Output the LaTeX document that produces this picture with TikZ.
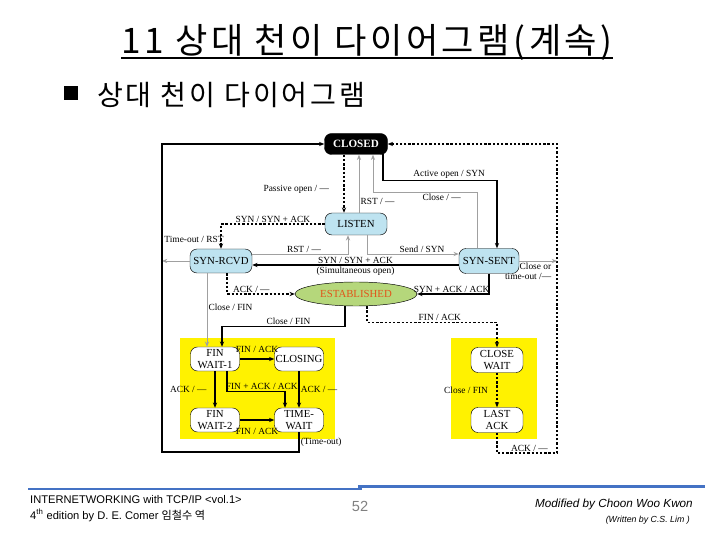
\documentclass[tikz,border=0pt]{standalone}
\usepackage{fontspec}
\setmainfont{Liberation Sans}
\newfontfamily\kr{Noto Sans CJK KR}
\newfontfamily\krwide[LetterSpace=10]{Noto Sans CJK KR}
\newfontfamily\serif{Liberation Serif}
\usepackage{tikz}
\usetikzlibrary{arrows.meta, calc, positioning, shapes.geometric}
\definecolor{stateblue}{RGB}{190,227,240}
\definecolor{estgreen}{RGB}{181,215,123}
\definecolor{estred}{RGB}{226,84,26}
\definecolor{grayline}{RGB}{160,160,160}
\definecolor{barblue}{RGB}{68,114,196}

\begin{document}
\begin{tikzpicture}[x=0.03cm, y=-0.03cm,
  state/.style={rectangle, rounded corners=6pt, draw, thin, inner sep=0pt,
              align=center, font=\serif\fontsize{9.2}{10.5}\selectfont},
  bluestate/.style={state, fill=stateblue},
  finstate/.style={state, fill=white, minimum width=1.47cm, minimum height=0.72cm},
  arrow/.style={-{Stealth[length=4.5pt,width=3.6pt]}, line width=1.1pt},
  grayarrow/.style={arrow, draw=grayline, line width=0.8pt},
  dasharrow/.style={arrow, dash pattern=on 2pt off 1.6pt, line width=0.9pt},
  lbl/.style={font=\serif\fontsize{8}{9}\selectfont, inner sep=1pt}
]
\useasboundingbox (0,0) rectangle (720,540);

% heading
\node[anchor=base, inner sep=0pt, font=\krwide\fontsize{30}{30}\selectfont] (title) at (367,54) {11 상대 천이 다이어그램(계속)};
\draw[line width=1.6pt] ([yshift=-3.5pt]title.base west) -- ([yshift=-3.5pt]title.base east);
\node[fill=black, minimum size=0.42cm, inner sep=0pt] (bullet) at (70.5,93.5) {};
\node[anchor=base west, inner sep=0pt, font=\krwide\fontsize{24}{24}\selectfont] (subtitle) at (97,106) {상대 천이 다이어그램};

% yellow areas
\fill[yellow] (180,338) rectangle (335,439);
\fill[yellow] (451,338) rectangle (537,439);

% states
\node[state, fill=black, text=white, font=\serif\bfseries\fontsize{9.5}{10}\selectfont,
      minimum width=1.89cm, minimum height=0.63cm] (closed) at (356,144) {CLOSED};
\node[bluestate, minimum width=1.86cm, minimum height=0.66cm] (listen) at (356,224) {LISTEN};
\node[bluestate, minimum width=1.86cm, minimum height=0.72cm] (synrcvd) at (221,261) {SYN-RCVD};
\node[bluestate, minimum width=1.8cm, minimum height=0.75cm] (synsent) at (489,261) {SYN-SENT};
\node[ellipse, draw, thin, fill=estgreen, text=estred, inner sep=0pt, minimum width=3.66cm,
      minimum height=0.72cm, font=\serif\fontsize{9.2}{10}\selectfont] (estab) at (356,294) {ESTABLISHED};
\node[finstate] (finwaita) at (215,359) {FIN\\WAIT-1};
\node[finstate] (closing) at (299,359) {CLOSING};
\node[finstate] (finwaitb) at (215,420) {FIN\\WAIT-2};
\node[finstate] (timewait) at (299,420) {TIME-\\WAIT};
\node[finstate, minimum width=1.56cm, minimum height=0.75cm] (closewait) at (497,360) {CLOSE\\WAIT};
\node[finstate, minimum width=1.56cm, minimum height=0.75cm] (lastack) at (497,420) {LAST\\ACK};

\coordinate (lcorner) at (162,452);
\coordinate (rcorner) at (557,453);

% open and close
\draw[dasharrow] ($(closed.south)+(-12,0)$) -- node[lbl, left=0.4cm, pos=0.6] {Passive open / —} ($(listen.north)+(-12,0)$);
\draw[grayarrow] ($(listen.north)+(3,0)$) -- node[lbl, right, pos=0.2] {RST / —} ($(closed.south)+(3,0)$);
\draw[grayarrow] ($(synsent.north)+(-12,0)$) -- ++(0,-56) -- node[lbl, below, pos=0.34] {Close / —} ++(-104,0)
  -- ($(closed.south)+(17,0)$);
\draw[arrow] ($(closed.south)+(27,-1)$) |- node[lbl, above, pos=0.79] {Active open / SYN} ($(synsent.north)+(8,-68)$)
  -- ($(synsent.north)+(8,0)$);
\draw[dasharrow] (lastack.south) |- node[lbl, above, pos=0.77] {ACK / —} (rcorner) |- (closed.east);
\draw[grayarrow] (synsent.east) -- node[lbl, below, align=right, xshift=-0.3cm] {Close or\\time-out /—} (synsent.east -| rcorner);

% handshake
\draw[dasharrow] (listen.west) -| node[lbl, above, pos=0.25] {SYN / SYN + ACK} (synrcvd.north);
\node[lbl] (timeout) at (194,239) {Time-out / RST};
\draw[grayarrow] (synrcvd.west) -- (synrcvd.west -| lcorner);
\draw[grayarrow] ($(synrcvd.east)+(0,-7)$) -| node[lbl, above, pos=0.27] {RST / —} ($(listen.south)+(-8,0)$);
\draw[arrow] ($(synsent.west)+(0,4)$) -- node[lbl, above] {SYN / SYN + ACK} node[lbl, below] {(Simultaneous open)}
  ($(synrcvd.east)+(0,4)$);
\draw[grayarrow] ($(listen.south)+(11,0)$) |- node[lbl, above, pos=0.8] {Send / SYN} ($(synsent.west)+(0,-7)$);
\draw[arrow] (synsent.south) |- node[lbl, above, pos=0.76] {SYN + ACK / ACK} (estab.east);
\draw[dasharrow] ($(synrcvd.south)+(6,0)$) |- node[lbl, above, pos=0.68] {ACK / —} (estab.west);

% closing
\draw[grayarrow] ($(synrcvd.south)+(-14,0)$) -- node[lbl, right, pos=0.47] {Close / FIN} ($(finwaita.north)+(-8,0)$);
\draw[arrow] ($(estab.south)+(-11,0)$) |- node[lbl, above, pos=0.73] {Close / FIN} ($(finwaita.north)+(7,-20)$)
  -- ($(finwaita.north)+(7,0)$);
\draw[dasharrow] ($(estab.south)+(11,0)$) |- node[lbl, above, pos=0.78] {FIN / ACK} ($(closewait.north)+(0,-25)$)
  -- (closewait.north);
\draw[dasharrow] (closewait) -- node[lbl, left=0.22cm] {Close / FIN} (lastack);
\draw[arrow] (finwaita) -- node[lbl, above=4pt] {FIN / ACK} (closing);
\draw[arrow] (finwaita) -- node[lbl, left=0.2cm] {ACK / —} (finwaitb);
\draw[arrow] ($(finwaita.south)+(12,0)$) |- node[lbl, above, pos=0.8] {FIN + ACK / ACK} ($(timewait.north)+(-14,-16)$)
  -- ($(timewait.north)+(-14,0)$);
\draw[arrow] (closing) -- node[lbl, right] {ACK / —} (timewait);
\draw[arrow] (finwaitb) -- node[lbl, below=0.2cm] {FIN / ACK} (timewait);
\draw[arrow] (timewait.south) |- node[lbl, right, pos=0.25] {(Time-out)} (lcorner) |- (closed.west);

% footer
\draw[barblue, line width=2.5pt] (28,489) -- (362,489);
\draw[barblue, line width=3.2pt] (358,486.5) -- (705,486.5);
\node[anchor=base west, inner sep=0pt, font=\fontsize{9.5}{11}\selectfont] (book) at (30,503) {INTERNETWORKING with TCP/IP <vol.1>};
\node[anchor=base west, inner sep=0pt, font=\fontsize{9.5}{11}\selectfont] (edition) at (30,519) {4\textsuperscript{th} edition by D. E. Comer {\kr 임철수 역}};
\node[anchor=base, inner sep=0pt, text=gray, font=\fontsize{12.5}{13}\selectfont] (page) at (360,511) {52};
\node[anchor=base east, inner sep=0pt, font=\itshape\fontsize{10}{12}\selectfont] (modified) at (693,507) {Modified by Choon Woo Kwon};
\node[anchor=base east, inner sep=0pt, font=\itshape\fontsize{7.5}{9}\selectfont] (written) at (690,522) {(Written by C.S. Lim )};
\end{tikzpicture}
\end{document}
